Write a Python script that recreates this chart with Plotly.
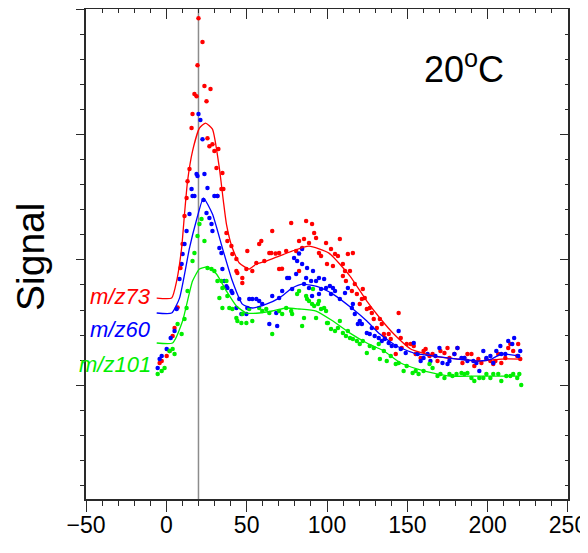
import plotly.graph_objects as go

# ---------------- data ----------------
red_x = [-4.2, -2.9, 0.2, 2.0, 3.9, 5.1, 7.0, 8.8, 10.1, 11.3, 12.6, 13.2, 14.4, 15.7, 16.3, 17.5, 18.8, 19.4, 20.0,
         22.5, 23.7, 25.0, 25.6, 26.8, 27.5, 28.7, 29.9, 31.2, 31.8, 32.4, 34.3, 34.9, 35.5, 37.4, 38.0, 40.5, 41.1,
         43.6, 43.6, 44.2, 47.3, 47.3, 49.8, 50.4, 53.5, 56.0, 57.8, 59.1, 61.0, 64.1, 65.3, 65.9, 68.0, 70.2, 70.2,
         72.0, 74.6, 77.7, 80.8, 82.6, 82.6, 84.5, 85.7, 87.0, 88.8, 90.7, 92.0, 93.2, 95.0, 96.3, 99.4, 100.0, 102.5,
         103.7, 105.0, 106.8, 108.0, 109.9, 109.9, 111.2, 111.8, 113.0, 114.3, 115.5, 116.1, 117.3, 118.6, 120.4,
         121.7, 122.3, 123.5, 124.8, 126.6, 127.9, 129.1, 131.0, 132.9, 134.1, 135.4, 136.0, 138.4, 139.7, 142.8,
         144.6, 145.9, 146.5, 149.6, 152.1, 154.0, 155.2, 158.3, 160.1, 161.4, 163.8, 165.7, 168.8, 170.6, 173.1,
         175.0, 176.2, 179.3, 181.2, 184.3, 185.5, 187.4, 189.9, 191.7, 194.2, 196.1, 199.2, 201.7, 203.5, 204.8,
         206.6, 208.5, 211.0, 212.8, 214.1, 215.9, 218.4, 219.0, 220.3]
red_y = [1.177, 1.193, 1.233, 1.273, 1.392, 1.456, 1.62, 1.935, 2.126, 2.349, 2.493, 2.628, 2.724, 3.051, 3.163, 3.322,
         3.306, 3.553, 3.928, 3.737, 3.386, 3.266, 2.971, 2.907, 3.362, 2.923, 2.868, 2.732, 2.509, 2.884, 2.565, 2.692,
         2.565, 2.214, 2.150, 2.110, 2.046, 2.006, 1.911, 1.895, 1.855, 1.815, 1.927, 2.070, 1.911, 1.975, 2.126, 2.150,
         1.990, 2.054, 2.054, 2.230, 2.050, 2.054, 1.927, 1.930, 2.070, 2.294, 2.070, 2.150, 1.911, 2.094, 2.166, 2.309,
         2.134, 2.286, 2.214, 2.174, 2.054, 2.030, 2.134, 1.967, 2.086, 1.951, 2.046, 2.030, 2.166, 1.967, 1.871, 1.911,
         1.831, 2.046, 1.911, 1.751, 2.054, 1.807, 1.727, 1.647, 1.687, 1.767, 1.695, 1.608, 1.616, 1.576, 1.528, 1.456,
         1.528, 1.488, 1.408, 1.376, 1.408, 1.368, 1.249, 1.576, 1.376, 1.297, 1.328, 1.328, 1.313, 1.249, 1.217, 1.273,
         1.289, 1.233, 1.249, 1.193, 1.273, 1.257, 1.297, 1.217, 1.249, 1.297, 1.177, 1.217, 1.249, 1.249, 1.153, 1.209,
         1.177, 1.209, 1.193, 1.169, 1.193, 1.249, 1.177, 1.217, 1.297, 1.328, 1.273, 1.233, 1.328, 1.209]

blue_x = [-5.4, -4.2, -2.9, 0.2, 2.7, 5.1, 6.4, 8.2, 9.5, 10.1, 11.3, 12.6, 14.4, 15.7, 16.3, 17.5, 18.8, 19.4, 20.0,
          21.2, 22.5, 23.1, 23.7, 25.0, 25.6, 26.8, 28.1, 28.7, 29.9, 31.8, 33.0, 34.3, 34.9, 36.1, 37.4, 38.0, 40.5,
          41.1, 43.6, 45.4, 46.7, 49.8, 50.4, 51.6, 53.5, 56.0, 57.8, 59.7, 64.1, 65.9, 68.4, 69.0, 70.2, 72.1, 75.2,
          76.4, 78.3, 79.5, 80.8, 81.4, 82.6, 84.5, 84.5, 85.7, 87.0, 87.6, 88.8, 90.1, 90.7, 91.3, 93.2, 95.0, 95.0,
          96.3, 98.2, 99.4, 101.8, 102.5, 103.7, 105.0, 108.0, 111.2, 113.0, 115.5, 116.1, 117.3, 119.2, 120.4, 121.7,
          124.8, 126.6, 127.9, 129.7, 132.2, 134.1, 136.0, 138.4, 140.3, 142.8, 144.6, 145.9, 149.0, 154.0, 156.4,
          158.3, 160.1, 162.6, 164.4, 167.5, 170.0, 171.9, 175.0, 176.2, 179.3, 181.2, 183.7, 185.5, 187.4, 191.1,
          193.0, 194.8, 197.3, 199.2, 201.7, 203.5, 205.4, 207.9, 208.5, 211.0, 212.8, 215.3, 216.5, 219.0, 220.3]
blue_y = [1.137, 1.209, 1.233, 1.289, 1.376, 1.432, 1.608, 1.847, 1.967, 2.046, 2.126, 2.230, 2.365, 2.565, 2.509, 2.509,
          2.684, 2.668, 3.163, 3.115, 2.963, 2.477, 2.684, 2.373, 2.573, 2.333, 2.286, 2.230, 2.509, 2.509, 2.094, 2.054,
          1.927, 1.831, 1.790, 1.775, 1.751, 1.735, 1.616, 1.687, 1.568, 1.568, 1.616, 1.687, 1.687, 1.687, 1.671, 1.647,
          1.488, 1.711, 1.576, 1.472, 1.695, 1.751, 1.855, 1.855, 1.767, 2.014, 1.887, 1.990, 2.050, 2.086, 1.967, 1.807,
          1.855, 1.935, 1.775, 1.831, 1.711, 1.911, 1.831, 1.855, 1.727, 1.767, 1.847, 1.775, 1.791, 1.727, 1.775, 1.751,
          1.687, 1.735, 1.775, 1.616, 1.647, 1.568, 1.488, 1.512, 1.488, 1.416, 1.408, 1.456, 1.392, 1.376, 1.352, 1.368,
          1.336, 1.313, 1.313, 1.432, 1.289, 1.257, 1.336, 1.249, 1.193, 1.217, 1.249, 1.193, 1.233, 1.297, 1.177, 1.169,
          1.193, 1.249, 1.297, 1.217, 1.217, 1.193, 1.193, 1.177, 1.113, 1.273, 1.217, 1.233, 1.177, 1.273, 1.313, 1.249,
          1.249, 1.352, 1.328, 1.376, 1.233, 1.273]

green_x = [-5.4, -2.9, -1.1, 2.0, 3.9, 5.1, 7.0, 9.5, 11.3, 12.6, 13.2, 16.3, 17.5, 19.4, 20.6, 21.9, 23.7, 25.6, 28.1,
           29.9, 31.8, 33.0, 34.3, 34.9, 34.9, 37.4, 38.0, 39.2, 41.1, 43.6, 44.2, 46.7, 47.3, 49.8, 51.6, 53.5, 57.8,
           59.7, 62.2, 64.1, 65.9, 70.2, 72.1, 74.6, 77.7, 78.3, 81.4, 82.6, 84.5, 85.7, 87.0, 87.6, 88.8, 90.7, 91.3,
           92.0, 93.2, 94.4, 95.0, 96.3, 98.2, 99.4, 100.0, 100.6, 102.5, 105.0, 106.8, 108.0, 109.9, 111.8, 113.0,
           114.3, 116.1, 118.6, 120.4, 122.3, 124.8, 126.6, 129.1, 132.2, 132.9, 135.4, 137.2, 139.7, 142.8, 144.6,
           147.7, 149.6, 153.3, 155.2, 157.0, 160.1, 163.8, 165.7, 168.8, 170.6, 173.1, 176.2, 178.1, 180.6, 183.7,
           185.5, 187.4, 189.9, 191.7, 194.8, 197.3, 199.2, 201.7, 203.5, 206.6, 208.5, 211.6, 214.1, 215.9, 218.4,
           219.7, 220.9]
green_y = [1.089, 1.113, 1.137, 1.273, 1.289, 1.249, 1.488, 1.408, 1.528, 1.616, 1.751, 1.990, 2.054, 2.190, 2.286,
           2.325, 2.150, 1.935, 1.927, 1.911, 1.831, 1.695, 1.831, 1.775, 1.616, 1.831, 1.711, 1.616, 1.608, 1.536,
           1.512, 1.496, 1.568, 1.496, 1.608, 1.512, 1.616, 1.592, 1.608, 1.576, 1.408, 1.592, 1.568, 1.616, 1.592,
           1.568, 1.727, 1.751, 1.472, 1.536, 1.711, 1.687, 1.671, 1.647, 1.767, 1.632, 1.536, 1.647, 1.671, 1.608,
           1.616, 1.592, 1.496, 1.496, 1.448, 1.432, 1.456, 1.512, 1.416, 1.392, 1.432, 1.376, 1.368, 1.352, 1.328,
           1.352, 1.257, 1.313, 1.297, 1.328, 1.209, 1.273, 1.193, 1.233, 1.169, 1.177, 1.113, 1.153, 1.097, 1.113,
           1.089, 1.113, 1.169, 1.137, 1.073, 1.089, 1.057, 1.089, 1.073, 1.089, 1.097, 1.089, 1.097, 1.057, 1.033,
           1.057, 1.057, 1.089, 1.057, 1.089, 1.089, 1.033, 1.073, 1.073, 1.089, 1.057, 1.089, 1.002]

# smoothed curves
red_fit_x = [-6, 3.3, 6.4, 9.5, 11.3, 13.2, 16.3, 20.6, 24.4, 28.7, 33.0, 35.5, 37.4, 41.1, 45.4, 51.6, 56.0, 62.2,
             70.2, 78.3, 88.8, 101.2, 114.3, 124.8, 132.9, 141.6, 152.1, 166.3, 181.2, 194.2, 208.5, 220.0]
red_fit_y = [1.695, 1.695, 1.831, 2.094, 2.365, 2.628, 2.868, 3.051, 3.091, 3.043, 2.732, 2.469, 2.286, 2.094, 1.975,
             1.927, 1.967, 1.990, 2.030, 2.070, 2.110, 2.054, 1.871, 1.671, 1.536, 1.408, 1.289, 1.233, 1.209, 1.193,
             1.209, 1.209]

blue_fit_x = [-6, 3.3, 8.2, 14.4, 18.6, 23.1, 28.7, 34.9, 41.1, 47.3, 53.5, 62.2, 70.2, 78.3, 84.5, 95.0, 103.7, 116.1,
              124.8, 132.9, 143.4, 154.0, 166.3, 181.2, 194.2, 202.3, 208.5, 220.0]
blue_fit_y = [1.576, 1.576, 1.695, 2.094, 2.310, 2.493, 2.365, 2.094, 1.831, 1.647, 1.616, 1.647, 1.695, 1.775, 1.807,
              1.783, 1.727, 1.608, 1.512, 1.408, 1.313, 1.257, 1.233, 1.209, 1.193, 1.209, 1.249, 1.233]

green_fit_x = [-6, 3.9, 10.1, 16.3, 20.6, 25.6, 31.2, 37.4, 43.6, 49.8, 57.8, 65.9, 74.6, 82.6, 93.2, 103.7, 114.3,
               124.8, 135.4, 145.9, 156.4, 166.3, 176.9, 194.2, 208.5, 220.0]
green_fit_y = [1.337, 1.337, 1.512, 1.831, 1.927, 1.943, 1.887, 1.751, 1.632, 1.576, 1.576, 1.592, 1.616, 1.608, 1.592,
               1.512, 1.416, 1.337, 1.273, 1.177, 1.129, 1.097, 1.073, 1.073, 1.073, 1.073]

series_names = ["m/z73", "m/z60", "m/z101"]
series_colors = ["#ff0000", "#0000ff", "#00ee00"]
label_y = [1.711, 1.448, 1.169]
marker_line = 20
x_ticks = [-50, 0, 50, 100, 150, 200, 250]

FONT = "Liberation Sans, Arial, sans-serif"
AX = "#2a2a2a"

fig = go.Figure()
for xs, ys, c in [(red_x, red_y, series_colors[0]), (blue_x, blue_y, series_colors[1]),
                  (green_x, green_y, series_colors[2])]:
    fig.add_trace(go.Scatter(x=xs, y=ys, mode="markers", marker=dict(size=4.5, color=c),
                             showlegend=False, hoverinfo="skip"))
for xs, ys, c in [(red_fit_x, red_fit_y, series_colors[0]), (blue_fit_x, blue_fit_y, series_colors[1]),
                  (green_fit_x, green_fit_y, series_colors[2])]:
    fig.add_trace(go.Scatter(x=xs, y=ys, mode="lines", line=dict(color=c, width=1.3, shape="spline", smoothing=0.5),
                             showlegend=False, hoverinfo="skip"))

# invisible trace so the mirrored top/right axes get drawn
fig.add_trace(go.Scatter(x=[red_x[0]], y=[red_y[0]], xaxis="x2", yaxis="y2", mode="markers",
                         marker=dict(size=1, opacity=0), showlegend=False, hoverinfo="skip"))

fig.add_shape(type="line", xref="x", yref="paper", x0=marker_line, x1=marker_line, y0=0, y1=1,
              line=dict(color="#8c8c8c", width=1.5), layer="below")

for name, c, yy in zip(series_names, series_colors, label_y):
    fig.add_annotation(x=-8.5, y=yy, xref="x", yref="y", text=name, showarrow=False, xanchor="right",
                       yanchor="middle", font=dict(family=FONT, size=22, color=c, style="italic"))

fig.add_annotation(x=0.697, y=0.882, xref="paper", yref="paper", text="20<sup>o</sup>C", showarrow=False,
                   xanchor="left", yanchor="middle", font=dict(family=FONT, size=36, color="black"))
fig.add_annotation(x=-0.114, y=0.494, xref="paper", yref="paper", text="Signal", showarrow=False, textangle=-90,
                   xanchor="center", yanchor="middle", font=dict(family=FONT, size=39, color="black"))

xr = [-50.01, 250.01]
yr = [0.0925, 4.001]
fig.update_layout(
    width=580, height=537,
    margin=dict(l=78, r=18, t=1, b=46),
    paper_bgcolor="white", plot_bgcolor="white",
    showlegend=False,
    xaxis=dict(range=xr, tickvals=x_ticks, ticks="outside", ticklen=11, tickwidth=1.3, tickcolor=AX,
               showline=True, linecolor=AX, linewidth=1.6, showgrid=False, zeroline=False,
               ticklabeloverflow="allow", ticklabelstandoff=-6,
               minor=dict(dtick=10, tick0=0, ticks="outside", ticklen=5, tickwidth=1.1, tickcolor=AX, showgrid=False),
               tickfont=dict(family=FONT, size=23, color="black")),
    yaxis=dict(range=yr, tick0=0, dtick=1, ticks="outside", ticklen=8, tickwidth=1.3, tickcolor=AX,
               showticklabels=False, showline=True, linecolor=AX, linewidth=1.6, showgrid=False, zeroline=False,
               minor=dict(dtick=0.2, tick0=0, ticks="outside", ticklen=4, tickwidth=1.1, tickcolor=AX,
                          showgrid=False)),
    xaxis2=dict(range=xr, overlaying="x", side="top", anchor="y2", tickvals=x_ticks, ticks="inside", ticklen=10,
                tickwidth=1.3, tickcolor=AX, showticklabels=False, showline=True, linecolor=AX, linewidth=1.6,
                showgrid=False, zeroline=False,
                minor=dict(dtick=10, tick0=0, ticks="inside", ticklen=4, tickwidth=1.1, tickcolor=AX,
                           showgrid=False)),
    yaxis2=dict(range=yr, overlaying="y", side="right", anchor="x2", tick0=0, dtick=1, ticks="inside", ticklen=8,
                tickwidth=1.3, tickcolor=AX, showticklabels=False, showline=True, linecolor=AX, linewidth=1.6,
                showgrid=False, zeroline=False,
                minor=dict(dtick=0.2, tick0=0, ticks="inside", ticklen=3, tickwidth=1.1, tickcolor=AX,
                           showgrid=False)),
)

fig.write_html("out.html")
